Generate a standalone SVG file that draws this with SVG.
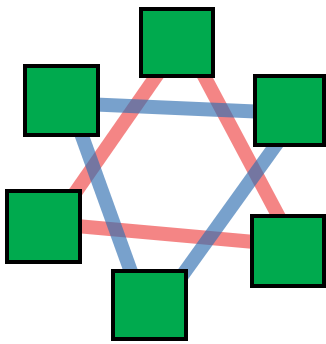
<svg xmlns="http://www.w3.org/2000/svg" width="326" height="344" viewBox="0 0 326 344">
<style>
.red{stroke:#ee3a3a;stroke-opacity:0.62;stroke-width:14;fill:none}
.blue{stroke:#2f6fb0;stroke-opacity:0.65;stroke-width:14;fill:none}
.node{fill:#00aa4e;stroke:#000;stroke-width:4}
</style>
<rect width="326" height="344" fill="#fff"/>
<g id="connectors">
<line class="red" x1="180" y1="42" x2="52" y2="226"/>
<line class="red" x1="186" y1="42" x2="297" y2="251"/>
<line class="red" x1="43" y1="223" x2="288" y2="245"/>
<line class="blue" x1="61" y1="103" x2="290" y2="113"/>
<line class="blue" x1="69" y1="100" x2="143" y2="305"/>
<line class="blue" x1="301" y1="110" x2="161" y2="305"/>
</g>
<g id="n1"><rect class="node" x="141" y="9" width="72" height="67"/></g>
<g id="n2"><rect class="node" x="25" y="66" width="73" height="69"/></g>
<g id="n3"><rect class="node" x="255" y="76" width="69" height="69"/></g>
<g id="n4"><rect class="node" x="7" y="191" width="73" height="71"/></g>
<g id="n5"><rect class="node" x="113" y="271" width="73" height="68"/></g>
<g id="n6"><rect class="node" x="252" y="216" width="72" height="70"/></g>
</svg>
